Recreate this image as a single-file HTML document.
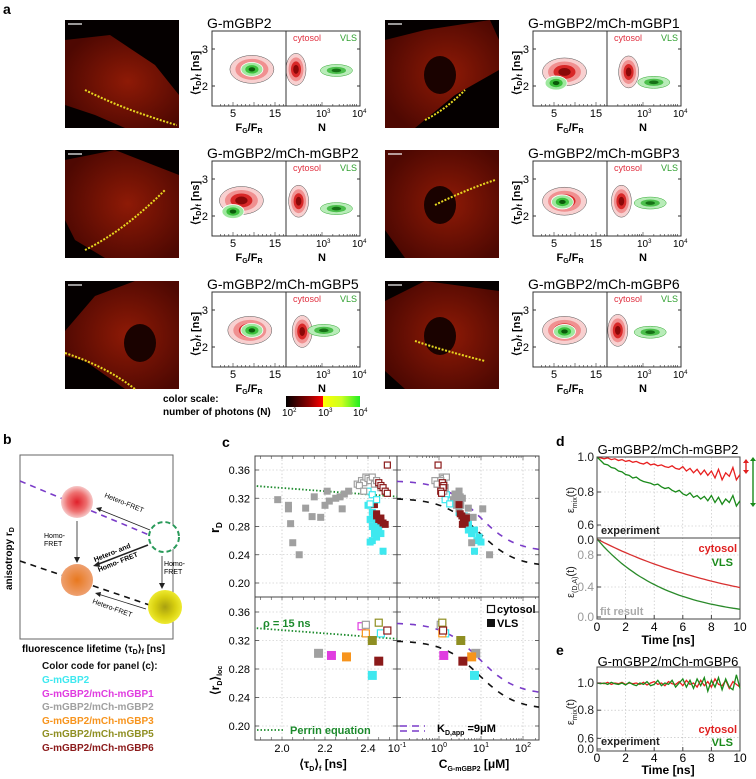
<!DOCTYPE html>
<html><head><meta charset="utf-8">
<style>
html,body{margin:0;padding:0;background:#fff;}
svg{display:block;font-family:"Liberation Sans",Arial,sans-serif;}
.b{font-weight:bold}
</style></head>
<body>
<svg id="fig" xmlns="http://www.w3.org/2000/svg" width="756" height="779" viewBox="0 0 756 779">
<defs>
  <radialGradient id="gRed" cx="50%" cy="50%" r="50%"><stop offset="0" stop-color="#e0202a"/><stop offset="0.6" stop-color="#ee7070"/><stop offset="1" stop-color="#f6c8c8"/></radialGradient>
  <radialGradient id="gOra" cx="50%" cy="50%" r="50%"><stop offset="0" stop-color="#e8781e"/><stop offset="1" stop-color="#eea070"/></radialGradient>
  <radialGradient id="gYel" cx="50%" cy="50%" r="50%"><stop offset="0" stop-color="#a8a010"/><stop offset="0.6" stop-color="#d8d010"/><stop offset="1" stop-color="#eeea30"/></radialGradient>
  <radialGradient id="gCell" cx="55%" cy="50%" r="60%"><stop offset="0" stop-color="#8e1a06"/><stop offset="1" stop-color="#4e0802"/></radialGradient>
  <linearGradient id="gScale" x1="0" x2="1" y1="0" y2="0"><stop offset="0" stop-color="#000"/><stop offset="0.3" stop-color="#800"/><stop offset="0.5" stop-color="#f00"/><stop offset="0.5" stop-color="#ff0"/><stop offset="0.75" stop-color="#cf2"/><stop offset="1" stop-color="#2e2"/></linearGradient>
  <clipPath id="cTL"><rect x="255" y="456" width="142" height="141"/></clipPath>
  <clipPath id="cTR"><rect x="397" y="456" width="142" height="141"/></clipPath>
  <clipPath id="cBL"><rect x="255" y="597" width="142" height="143"/></clipPath>
  <clipPath id="cBR"><rect x="397" y="597" width="142" height="143"/></clipPath>
</defs>

<text x="3" y="14" class="b" font-size="14">a</text>
<g id="panelA"></g>

<g>
  <text x="163" y="402" font-size="10" class="b">color scale:</text>
  <text x="163" y="415" font-size="10" class="b">number of photons (N)</text>
  <rect x="286" y="396" width="74" height="11" fill="url(#gScale)"/>
  <text x="282" y="416" font-size="10">10<tspan font-size="6" dy="-4">2</tspan></text>
  <text x="318" y="416" font-size="10">10<tspan font-size="6" dy="-4">3</tspan></text>
  <text x="353" y="416" font-size="10">10<tspan font-size="6" dy="-4">4</tspan></text>
</g>

<g>
  <text x="3" y="444" class="b" font-size="14">b</text>
  <rect x="20" y="455" width="153" height="184" fill="none" stroke="#666" stroke-width="1"/>
  <line x1="20" y1="481" x2="173" y2="545" stroke="#7a3cc8" stroke-width="1.6" stroke-dasharray="6,5"/>
  <line x1="20" y1="561" x2="173" y2="613" stroke="#111" stroke-width="1.6" stroke-dasharray="6,5"/>
  <circle cx="77" cy="502" r="16" fill="url(#gRed)"/>
  <circle cx="77" cy="580" r="16" fill="url(#gOra)"/>
  <circle cx="164" cy="537" r="15" fill="#fff" stroke="#2a9a5a" stroke-width="2" stroke-dasharray="5,3"/>
  <circle cx="165" cy="607" r="17" fill="url(#gYel)"/>
  <line x1="77" y1="521" x2="77" y2="558" stroke="#222" stroke-width="0.8"/>
  <polygon points="74,557 80,557 77,563" fill="#222"/>
  <line x1="162" y1="556" x2="162" y2="584" stroke="#222" stroke-width="0.8"/>
  <polygon points="159,583 165,583 162,589" fill="#222"/>
  <line x1="150" y1="530" x2="98" y2="509" stroke="#222" stroke-width="0.8"/>
  <polygon points="96,508 102,507 100,512" fill="#222"/>
  <line x1="148" y1="545" x2="96" y2="565" stroke="#222" stroke-width="1.6"/>
  <polygon points="93,566 99,561 100,567" fill="#222"/>
  <line x1="146" y1="609" x2="98" y2="594" stroke="#222" stroke-width="0.8"/>
  <polygon points="95,593 101,592 100,597" fill="#222"/>
  <text font-size="7" transform="translate(104,497) rotate(22)">Hetero-FRET</text>
  <text x="44" y="538" font-size="7">Homo-</text>
  <text x="44" y="546" font-size="7">FRET</text>
  <text font-size="7" class="b" transform="translate(95,562) rotate(-22)">Hetero-  and</text>
  <text font-size="7" class="b" transform="translate(99,572) rotate(-22)">Homo- FRET</text>
  <text x="164" y="566" font-size="7">Homo-</text>
  <text x="164" y="574" font-size="7">FRET</text>
  <text font-size="7" transform="translate(92,603) rotate(20)">Hetero-FRET</text>
  <text font-size="10" class="b" transform="translate(12,590) rotate(-90)">anisotropy r<tspan font-size="7" dy="2">D</tspan></text>
  <text x="22" y="652" font-size="10" class="b">fluorescence lifetime ⟨τ<tspan font-size="7" dy="2">D</tspan><tspan dy="-2">⟩</tspan><tspan font-size="7" dy="2">f</tspan><tspan dy="-2"> [ns]</tspan></text>
  <g font-size="10" class="b">
    <text x="42" y="669" fill="#111">Color code for panel (c):</text>
    <text x="42" y="683" fill="#3ee8ef">G-mGBP2</text>
    <text x="42" y="697" fill="#e03ce0">G-mGBP2/mCh-mGBP1</text>
    <text x="42" y="710" fill="#a0a0a0">G-mGBP2/mCh-mGBP2</text>
    <text x="42" y="724" fill="#f7941d">G-mGBP2/mCh-mGBP3</text>
    <text x="42" y="737" fill="#8f8f22">G-mGBP2/mCh-mGBP5</text>
    <text x="42" y="751" fill="#8b1a1a">G-mGBP2/mCh-mGBP6</text>
  </g>
</g>

<g id="panelC">
  <text x="222" y="447" class="b" font-size="14">c</text>
</g>
<g id="panelD">
  <text x="556" y="446" class="b" font-size="14">d</text>
  <text x="668" y="454" font-size="13" text-anchor="middle">G-mGBP2/mCh-mGBP2</text>
  <text x="556" y="655" class="b" font-size="14">e</text>
  <text x="668" y="666" font-size="13" text-anchor="middle">G-mGBP2/mCh-mGBP6</text>
</g>
</svg>

<script>
var NS='http://www.w3.org/2000/svg';
function mk(tag,attrs,parent){var e=document.createElementNS(NS,tag);for(var k in attrs)e.setAttribute(k,attrs[k]);parent.appendChild(e);return e;}
function txt(s,attrs,parent){var e=mk('text',attrs,parent);e.textContent=s;return e;}

/* ---------- panel a data ---------- */
var cellTitles=['G-mGBP2','G-mGBP2/mCh-mGBP1','G-mGBP2/mCh-mGBP2','G-mGBP2/mCh-mGBP3','G-mGBP2/mCh-mGBP5','G-mGBP2/mCh-mGBP6'];
var cytRatio=[9.5,7.5,7.0,7.5,9.0,7.5];
var cytTau=[2.45,2.38,2.42,2.40,2.45,2.45];
var vlsRatio=[9.5,5.5,5.0,7.0,9.5,7.5];
var vlsTau=[2.45,2.08,2.12,2.38,2.45,2.42];
var cytLogN=[2.15,2.6,2.35,2.4,2.45,2.3];
var vlsLogN=[3.4,3.3,3.4,3.2,3.05,3.2];
var vlsNTau=[2.42,2.1,2.2,2.35,2.45,2.4];
var cytNTau=[2.45,2.38,2.4,2.4,2.42,2.45];

var A=document.getElementById('panelA');
var cols=[{img:65,L:212},{img:385,L:533}];
var rowsY=[0,130,261];
var cellShapes=[
 'M0,20 L45,15 L90,45 L114,75 L114,108 L60,108 L30,95 L0,85 Z',
 'M0,20 L40,10 L105,0 L114,20 L114,50 L70,75 L30,108 L0,108 Z',
 'M0,10 L50,0 L114,25 L114,108 L40,108 L10,90 L0,70 Z',
 'M0,0 L114,0 L114,108 L20,108 L0,80 Z',
 'M0,50 L30,15 L70,0 L114,0 L114,108 L60,108 L20,80 L0,75 Z',
 'M0,20 L40,0 L114,10 L114,108 L20,108 L0,90 Z'];
var yelLines=[
 'M20,70 Q50,85 80,95 T112,105',
 'M40,100 Q60,90 80,70',
 'M20,100 Q60,80 100,40',
 'M50,55 Q80,40 110,30',
 'M0,72 Q40,85 70,108',
 'M30,60 Q60,70 100,80'];
function drawCell(i){
  var c=cols[i%2],oy=rowsY[Math.floor(i/2)],L=c.L;
  function yT(tau){return oy+49+(3-tau)*37;}
  function xF(f){return L+f*4.2;}
  function xN(lg){return L+74+(lg-2)*36;}
  var g=mk('g',{},A);
  
  
  var im=mk('g',{transform:'translate('+c.img+','+(20+oy)+')'},g);
  
  
  var bg=mk('rect',{x:0,y:0,width:114,height:108,fill:'#050000'},im);
  
  
  var sh=mk('path',{d:cellShapes[i],fill:'url(#gCell)'},im);
  
  
  if(i==4||i==1||i==3||i==5){var nu=mk('ellipse',{cx:i==4?75:55,cy:i==4?62:55,rx:16,ry:19,fill:'#1a0200'},im);
  
  }
  var yl=mk('path',{d:yelLines[i],fill:'none',stroke:'#e8d820','stroke-width':2,'stroke-dasharray':'2,1.5'},im);
  
  
  var sb=mk('line',{x1:3,y1:4,x2:17,y2:4,stroke:'#fff','stroke-width':1.2},im);
  
  
  var t=txt(cellTitles[i],{x:L-5,y:28+oy,'font-size':14},g);
  
  
  var lvls=[[1,'#f8d0d0'],[0.75,'#f09090'],[0.5,'#d82828'],[0.28,'#8a0808']];
  lvls.forEach(function(lv){
    var e=mk('ellipse',{cx:xF(cytRatio[i]),cy:yT(cytTau[i]),rx:22*lv[0],ry:14*lv[0],fill:lv[1],stroke:lv[0]==1?'#555':'none','stroke-width':0.5},g);
    
    
  });
  [[1,'#9ee89e'],[0.6,'#3cc03c'],[0.3,'#0a5a0a']].forEach(function(lv){
    var e=mk('ellipse',{cx:xF(vlsRatio[i]),cy:yT(vlsTau[i]),rx:11*lv[0],ry:7*lv[0],fill:lv[1],stroke:lv[0]==1?'#fff':'none','stroke-width':0.8},g);
    
    
  });
  lvls.forEach(function(lv){
    var e=mk('ellipse',{cx:Math.max(xN(cytLogN[i]),L+84),cy:yT(cytNTau[i]),rx:10*lv[0],ry:16*lv[0],fill:lv[1],stroke:lv[0]==1?'#555':'none','stroke-width':0.5},g);
    
    
  });
  [[1,'#b8ecb8'],[0.6,'#4cc04c'],[0.3,'#167016']].forEach(function(lv){
    var e=mk('ellipse',{cx:xN(vlsLogN[i]),cy:yT(vlsNTau[i]),rx:16*lv[0],ry:6*lv[0],fill:lv[1],stroke:lv[0]==1?'#3a3':'none','stroke-width':0.5},g);
    
    
  });
  var box=mk('rect',{x:L,y:31+oy,width:148,height:75,fill:'none',stroke:'#333','stroke-width':1},g);
  
  
  var dv=mk('line',{x1:L+74,y1:31+oy,x2:L+74,y2:106+oy,stroke:'#333','stroke-width':1},g);
  
  
  var lc=txt('cytosol',{x:L+81,y:41+oy,'font-size':9,fill:'#e03040'},g);
  
  
  var lv2=txt('VLS',{x:L+128,y:41+oy,'font-size':9,fill:'#30a030'},g);
  
  
  [3,2].forEach(function(v){
    var tl=txt(String(v),{x:L-4,y:yT(v)+4,'font-size':11,'text-anchor':'end'},g);
    
    
    var tk=mk('line',{x1:L,x2:L+3,y1:yT(v),y2:yT(v),stroke:'#333'},g);
    
    
    var tk2=mk('line',{x1:L+148,x2:L+145,y1:yT(v),y2:yT(v),stroke:'#333'},g);
    
    
  });
  var yl2=txt('',{transform:'translate('+(L-13)+','+(95+oy)+') rotate(-90)','font-size':11,'class':'b'},g);
  yl2.innerHTML='⟨τ<tspan font-size="7" dy="2">D</tspan><tspan dy="-2">⟩</tspan><tspan font-size="7" dy="2">f</tspan><tspan dy="-2"> [ns]</tspan>';
  
  
  [5,15].forEach(function(v){
    var tl=txt(String(v),{x:xF(v),y:117+oy,'font-size':11,'text-anchor':'middle'},g);
    
    
  });
  for(var f=2;f<=17;f++){var tk=mk('line',{x1:xF(f),x2:xF(f),y1:106+oy,y2:(f%5==0)?102+oy:104+oy,stroke:'#333','stroke-width':0.6},g);
    
    }
  for(var d=2;d<4;d++)for(var m=1;m<10;m++){var xx=xN(d+Math.log10(m));var tk3=mk('line',{x1:xx,x2:xx,y1:106+oy,y2:m==1?102+oy:104+oy,stroke:'#333','stroke-width':0.6},g);
    
    }
  [3,4].forEach(function(v){
    var tl=txt('',{x:xN(v)-6,y:117+oy,'font-size':10},g);
    tl.innerHTML='10<tspan font-size="6" dy="-4">'+v+'</tspan>';
    
    
  });
  var xt=txt('',{x:L+37,y:131+oy,'font-size':11,'class':'b','text-anchor':'middle'},g);
  xt.innerHTML='F<tspan font-size="7" dy="2">G</tspan><tspan dy="-2">/F</tspan><tspan font-size="7" dy="2">R</tspan>';
  
  
  var xn=txt('N',{x:L+110,y:131+oy,'font-size':11,'class':'b','text-anchor':'middle'},g);
  
  
}
for(var ci=0;ci<6;ci++)drawCell(ci);

/* ---------- panel c data ---------- */
var grpColors=['#3ee8ef','#e03ce0','#a0a0a0','#f7941d','#8f8f22','#8b1a1a'];
var vlsGroup=[0,0,0,0,0,0,0,0,0,0,0,0,0,0,0, 2,2,2,2,2,2,2,2,2,2,2,2,2,2,2,2,2,2, 5,5,5,5,5,5,5,5];
var vlsTauArr=[2.40,2.41,2.42,2.43,2.44,2.45,2.42,2.46,2.43,2.41,2.44,2.45,2.47,2.42,2.43, 1.98,2.03,2.03,2.04,2.05,2.08,2.11,2.14,2.15,2.18,2.21,2.20,2.22,2.25,2.27,2.28,2.29,2.31, 2.43,2.44,2.45,2.46,2.47,2.48,2.44,2.46];
var vlsRArr=[0.310,0.290,0.280,0.270,0.285,0.275,0.260,0.270,0.295,0.258,0.265,0.282,0.245,0.300,0.275, 0.318,0.310,0.305,0.284,0.257,0.240,0.306,0.294,0.322,0.293,0.330,0.310,0.316,0.320,0.322,0.305,0.326,0.330, 0.311,0.295,0.290,0.288,0.285,0.283,0.298,0.292];
var vlsCArr=[3.0,4.0,5.0,6.0,5.0,7.0,8.0,6.0,4.0,10,9.0,5.0,7.0,3.0,5.0, 2.2,2.6,3.0,4.0,6.0,16,5.0,4.5,2.5,6.5,3.0,3.3,2.8,3.6,3.2,11,2.4,3.0, 3.0,3.5,4.0,3.8,4.2,3.6,3.2,4.5];
var cytGroup=[0,0,0,0, 2,2,2,2,2,2,2,2,2,2,2,2,2, 5,5,5,5,5,5];
var cytTauArr=[2.40,2.42,2.44,2.41, 2.35,2.37,2.38,2.39,2.40,2.41,2.42,2.43,2.44,2.36,2.45,2.46,2.38, 2.49,2.45,2.46,2.47,2.48,2.49];
var cytRArr=[0.330,0.325,0.318,0.312, 0.340,0.345,0.342,0.350,0.348,0.345,0.350,0.340,0.345,0.338,0.340,0.335,0.330, 0.367,0.342,0.338,0.335,0.330,0.327];
var cytCArr=[1.2,1.5,1.4,1.8, 0.9,1.0,1.1,1.2,1.3,0.8,1.5,1.0,1.1,1.2,0.9,1.4,1.3, 0.95,1.2,1.3,1.25,1.1,1.15];
var locVlsTau=[2.42,2.23,2.17,2.30,2.42,2.45];
var locVlsR=[0.271,0.299,0.302,0.297,0.320,0.291];
var locVlsC=[7.0,1.3,7.5,6.0,3.3,3.7];
var locCytTau=[2.46,2.37,2.39,2.39,2.45,2.49];
var locCytR=[0.330,0.340,0.342,0.330,0.345,0.334];
var locCytC=[1.4,1.2,1.1,1.2,1.2,1.25];
var perrinTau=[1.85,2.55];
var perrinR=[0.338,0.322];
var bindR0=[0.345,0.320];
var bindRinf=[0.244,0.223];
var bindKd=[9,9];
var yTickC=[0.20,0.24,0.28,0.32,0.36];
var xTickTau=[2.0,2.2,2.4];

var C=document.getElementById('panelC');
function xTau(t){return 282+(t-2.0)*215;}
function xC(c){return 397+(Math.log10(c)+1)*42;}
function yTop(r){return 470+(0.36-r)*706.25;}
function yBot(r){return 612+(0.36-r)*712.5;}

function grid(x1,x2,yf){
  yTickC.forEach(function(v){var l=mk('line',{x1:x1,x2:x2,y1:yf(v),y2:yf(v),stroke:'#bbb','stroke-width':0.6,'stroke-dasharray':'1.5,2'},C);
    
    });
}
grid(255,539,yTop);grid(255,539,yBot);
[xTau(2.0),xTau(2.2),xTau(2.4),xC(1),xC(10),xC(100)].forEach(function(x){
  var l=mk('line',{x1:x,x2:x,y1:456,y2:740,stroke:'#bbb','stroke-width':0.6,'stroke-dasharray':'1.5,2'},C);
  
  
});
[[255,456,142,141],[397,456,142,141],[255,597,142,143],[397,597,142,143]].forEach(function(b){
  var r=mk('rect',{x:b[0],y:b[1],width:b[2],height:b[3],fill:'none',stroke:'#444','stroke-width':1},C);
  
  
});
yTickC.forEach(function(v){
  var a=txt(v.toFixed(2),{x:250,y:yTop(v)+4,'font-size':11,'text-anchor':'end'},C);
  
  
  var b=txt(v.toFixed(2),{x:250,y:yBot(v)+4,'font-size':11,'text-anchor':'end'},C);
  
  
  [yTop(v),yBot(v)].forEach(function(y){[255,535,393,397].forEach(function(x){
    var t=mk('line',{x1:x,x2:x+4,y1:y,y2:y,stroke:'#444','stroke-width':0.8},C);
    
    });});
});
xTickTau.forEach(function(v){
  var a=txt(v.toFixed(1),{x:xTau(v),y:752,'font-size':11,'text-anchor':'middle'},C);
  
  
});
for(var tt=1.9;tt<2.54;tt+=0.05){[740,456,597].forEach(function(y){
  var t=mk('line',{x1:xTau(tt),x2:xTau(tt),y1:y,y2:y+(y==740?-3:3),stroke:'#444','stroke-width':0.6},C);
  
  });}
[-1,0,1,2].forEach(function(p){
  var a=txt('',{x:xC(Math.pow(10,p)),y:752,'font-size':11,'text-anchor':'middle'},C);
  a.innerHTML='10<tspan font-size="7" dy="-5">'+p+'</tspan>';
  
  
});
for(var p=-1;p<3;p++)for(var m=1;m<10;m++){var x=xC(m*Math.pow(10,p));if(x>539)break;[740,456,597].forEach(function(y){
  var t=mk('line',{x1:x,x2:x,y1:y,y2:y+(y==740?-1:1)*(m==1?4:2),stroke:'#444','stroke-width':0.6},C);
  
  });}
var yt1=txt('',{transform:'translate(219,533) rotate(-90)','font-size':13,'class':'b'},C);
yt1.innerHTML='r<tspan font-size="8" dy="3">D</tspan>';


var yt2=txt('',{transform:'translate(219,695) rotate(-90)','font-size':12,'class':'b'},C);
yt2.innerHTML='⟨r<tspan font-size="7" dy="3">D</tspan><tspan dy="-3">⟩</tspan><tspan font-size="7" dy="3">loc</tspan>';


var xt1=txt('',{x:323,y:768,'font-size':12,'class':'b','text-anchor':'middle'},C);
xt1.innerHTML='⟨τ<tspan font-size="7" dy="3">D</tspan><tspan dy="-3">⟩</tspan><tspan font-size="7" dy="3">f</tspan><tspan dy="-3"> [ns]</tspan>';


var xt2=txt('',{x:474,y:768,'font-size':12,'class':'b','text-anchor':'middle'},C);
xt2.innerHTML='C<tspan font-size="7" dy="3">G-mGBP2</tspan><tspan dy="-3"> [μM]</tspan>';



var gTL=mk('g',{'clip-path':'url(#cTL)'},C),gTR=mk('g',{'clip-path':'url(#cTR)'},C),gBL=mk('g',{'clip-path':'url(#cBL)'},C),gBR=mk('g',{'clip-path':'url(#cBR)'},C);
[[gTL,yTop],[gBL,yBot]].forEach(function(q){
  var l=mk('line',{x1:xTau(perrinTau[0]),y1:q[1](perrinR[0]),x2:xTau(perrinTau[1]),y2:q[1](perrinR[1]),stroke:'#1c8a2c','stroke-width':1.8,'stroke-dasharray':'1.5,2'},q[0]);
  
  
});
[[gTR,yTop],[gBR,yBot]].forEach(function(q){
  for(var k=0;k<2;k++){
    var d='';
    for(var lg=-1;lg<=2.4;lg+=0.05){var c=Math.pow(10,lg);var r=bindR0[k]-(bindR0[k]-bindRinf[k])*c/(c+bindKd[k]);d+=(d?'L':'M')+xC(c).toFixed(1)+','+q[1](r).toFixed(1);}
    var pth=mk('path',{d:d,fill:'none',stroke:k==0?'#7a3cc8':'#111','stroke-width':1.6,'stroke-dasharray':'6,7'},q[0]);
    
    
  }
});
function sq(g,x,y,col,filled,s,name){
  var r=mk('rect',{x:x-s/2,y:y-s/2,width:s,height:s,fill:filled?col:'#fff',stroke:col,'stroke-width':filled?0:1.2},g);
  
  
}
for(var i=0;i<vlsGroup.length;i++){var col=grpColors[vlsGroup[i]];
  sq(gTL,xTau(vlsTauArr[i]),yTop(vlsRArr[i]),col,true,7,'vls-point');
  sq(gTR,xC(vlsCArr[i]),yTop(vlsRArr[i]),col,true,7,'vls-point');}
for(var i=0;i<cytGroup.length;i++){var col=grpColors[cytGroup[i]];
  sq(gTL,xTau(cytTauArr[i]),yTop(cytRArr[i]),col,false,6,'cytosol-point');
  sq(gTR,xC(cytCArr[i]),yTop(cytRArr[i]),col,false,6,'cytosol-point');}
for(var i=0;i<6;i++){var col=grpColors[i];
  sq(gBL,xTau(locVlsTau[i]),yBot(locVlsR[i]),col,true,9,'loc-vls-point');
  sq(gBR,xC(locVlsC[i]),yBot(locVlsR[i]),col,true,9,'loc-vls-point');
  sq(gBL,xTau(locCytTau[i]),yBot(locCytR[i]),col,false,7,'loc-cytosol-point');
  sq(gBR,xC(locCytC[i]),yBot(locCytR[i]),col,false,7,'loc-cytosol-point');}
var rho=txt('ρ = 15 ns',{x:263,y:627,'font-size':11,'class':'b',fill:'#1c8a2c'},C);


var pl=mk('line',{x1:257,x2:285,y1:730,y2:730,stroke:'#1c8a2c','stroke-width':1.8,'stroke-dasharray':'1.5,2'},C);


var pt=txt('Perrin equation',{x:290,y:734,'font-size':11,'class':'b',fill:'#1c8a2c'},C);


[726,731].forEach(function(y){var l=mk('line',{x1:400,x2:425,y1:y,y2:y,stroke:'#7a3cc8','stroke-width':1.6,'stroke-dasharray':'7,5'},C);
  
  });
var kd=txt('',{x:437,y:732,'font-size':11,'class':'b'},C);
kd.innerHTML='K<tspan font-size="7" dy="3">D,app</tspan><tspan dy="-3"> =9μM</tspan>';


sq(C,491,609,'#111',false,7,'legend-cytosol-marker');
sq(C,491,623,'#111',true,8,'legend-vls-marker');
var lc1=txt('cytosol',{x:497,y:613,'font-size':11,'class':'b'},C);


var lc2=txt('VLS',{x:497,y:627,'font-size':11,'class':'b'},C);



/* ---------- panel d/e data ---------- */
var timeNs=[0,0.25,0.5,0.75,1,1.25,1.5,1.75,2,2.25,2.5,2.75,3,3.25,3.5,3.75,4,4.25,4.5,4.75,5,5.25,5.5,5.75,6,6.25,6.5,6.75,7,7.25,7.5,7.75,8,8.25,8.5,8.75,9,9.25,9.5,9.75,10];
var dCytosol=[1.0,0.995,0.99,0.995,0.985,0.99,0.98,0.985,0.975,0.98,0.97,0.975,0.965,0.96,0.97,0.955,0.96,0.95,0.955,0.945,0.94,0.95,0.935,0.93,0.945,0.92,0.935,0.91,0.93,0.90,0.925,0.895,0.92,0.88,0.93,0.87,0.91,0.89,0.94,0.87,0.90];
var dVls=[1.0,0.98,0.96,0.955,0.94,0.935,0.92,0.915,0.90,0.895,0.88,0.885,0.87,0.86,0.855,0.85,0.84,0.845,0.83,0.82,0.825,0.81,0.80,0.81,0.79,0.78,0.795,0.77,0.78,0.76,0.775,0.75,0.78,0.74,0.77,0.73,0.76,0.74,0.78,0.72,0.75];
var eCytosol=[1.0,1.0,0.995,1.005,0.99,1.0,0.995,1.005,0.99,1.0,0.995,1.0,0.99,1.005,0.985,1.0,1.01,0.99,1.0,0.98,1.01,0.995,0.99,1.01,0.98,1.02,0.99,1.0,0.97,1.02,0.98,1.01,0.97,1.03,0.99,0.98,1.02,0.96,1.01,0.99,0.97];
var eVls=[1.0,0.995,1.0,0.99,1.005,0.995,0.99,1.0,0.985,1.005,0.99,0.98,1.0,0.99,1.01,0.98,0.99,1.02,0.98,1.0,0.99,1.02,0.97,1.0,1.03,0.97,1.02,0.96,1.03,0.98,1.04,0.94,1.02,0.97,1.04,0.95,1.03,0.97,0.95,1.06,0.96];
var fitTau=[10.7,4.75];

var D=document.getElementById('panelD');
function xT(t){return 597+t*14.3;}
function yD(v){return 457+(1-v)*175;}
function yF(v){return 619-v*80;}
function yE(v){return 683+(1-v)*136;}
[0.8,0.6].forEach(function(v){var l=mk('line',{x1:597,x2:740,y1:yD(v)+(v==0.6?-1:0),y2:yD(v)+(v==0.6?-1:0),stroke:'#bbb','stroke-width':0.6,'stroke-dasharray':'1.5,2'},D);
  
  });
[0.4,0.8].forEach(function(v){var l=mk('line',{x1:597,x2:740,y1:yF(v),y2:yF(v),stroke:'#bbb','stroke-width':0.6,'stroke-dasharray':'1.5,2'},D);
  
  });
[0.8,0.6].forEach(function(v){var l=mk('line',{x1:597,x2:740,y1:yE(v),y2:yE(v),stroke:'#bbb','stroke-width':0.6,'stroke-dasharray':'1.5,2'},D);
  
  });
[2,4,6,8].forEach(function(t){[[457,619],[667,751]].forEach(function(r){
  var l=mk('line',{x1:xT(t),x2:xT(t),y1:r[0],y2:r[1],stroke:'#bbb','stroke-width':0.6,'stroke-dasharray':'1.5,2'},D);
  
  });});
[[597,457,143,162],[597,667,143,84]].forEach(function(b){var r=mk('rect',{x:b[0],y:b[1],width:b[2],height:b[3],fill:'none',stroke:'#444'},D);
  
  });
var sep=mk('line',{x1:597,x2:740,y1:538,y2:538,stroke:'#444'},D);


function line(arrT,arrV,yf,col,name){var d='';for(var i=0;i<arrT.length;i++)d+=(i?'L':'M')+xT(arrT[i]).toFixed(1)+','+yf(arrV[i]).toFixed(1);
  var pth=mk('path',{d:d,fill:'none',stroke:col,'stroke-width':1.3},D);
  
  }
line(timeNs,dCytosol,yD,'#e82020','d-cytosol-trace');
line(timeNs,dVls,yD,'#1a8a1a','d-vls-trace');
var fitV0=[],fitV1=[];
for(var i=0;i<timeNs.length;i++){fitV0.push(Math.exp(-timeNs[i]/fitTau[0]));fitV1.push(Math.exp(-timeNs[i]/fitTau[1]));}
line(timeNs,fitV0,yF,'#d83030','fit-cytosol-curve');
line(timeNs,fitV1,yF,'#2a8a2a','fit-vls-curve');
line(timeNs,eCytosol,yE,'#e82020','e-cytosol-trace');
line(timeNs,eVls,yE,'#1a8a1a','e-vls-trace');
function ylab(s,y,col,name){var t=txt(s,{x:594,y:y+4,'font-size':12,'text-anchor':'end',fill:col},D);
  
  
  var k=mk('line',{x1:597,x2:601,y1:y,y2:y,stroke:'#444'},D);
  
  }
ylab('1.0',yD(1),'#222','y-tick-label');ylab('0.8',yD(0.8),'#222','y-tick-label');ylab('0.6',yD(0.6)-2,'#222','y-tick-label');ylab('0.0',540,'#222','y-tick-label');
ylab('0.8',yF(0.8),'#999','y-tick-label-fit');ylab('0.4',yF(0.4),'#999','y-tick-label-fit');ylab('0.0',yF(0)-2,'#999','y-tick-label-fit');
ylab('1.0',yE(1),'#222','y-tick-label');ylab('0.8',yE(0.8),'#222','y-tick-label');ylab('0.6',yE(0.6)+1,'#222','y-tick-label');ylab('0.0',749,'#222','y-tick-label');
[0,2,4,6,8,10].forEach(function(t){[[631,619],[762,751]].forEach(function(q){
  var a=txt(String(t),{x:xT(t),y:q[0],'font-size':12,'text-anchor':'middle'},D);
  
  
  var k=mk('line',{x1:xT(t),x2:xT(t),y1:q[1],y2:q[1]-4,stroke:'#444'},D);
  
  });});
[644,774].forEach(function(y){var a=txt('Time [ns]',{x:668,y:y,'font-size':12,'class':'b','text-anchor':'middle'},D);
  
  });
[[574,500,'mix','y-axis-title-mix'],[574,582,'(D,A)','y-axis-title-fit'],[574,712,'mix','y-axis-title-e']].forEach(function(q){
  var a=txt('',{transform:'translate('+q[0]+','+q[1]+') rotate(-90)','font-size':11,'text-anchor':'middle',fill:'#222'},D);
  a.innerHTML='ε<tspan font-size="7" dy="3">'+q[2]+'</tspan><tspan dy="-3">(t)</tspan>';
  
  });
function lab(s,x,y,col,name,anchor){var a=txt(s,{x:x,y:y,'font-size':11,'class':'b',fill:col,'text-anchor':anchor||'start'},D);
  
  }
lab('experiment',601,534,'#222','experiment-label-d');
lab('cytosol',737,552,'#e02020','fit-cytosol-label','end');
lab('VLS',733,566,'#1a8a1a','fit-vls-label','end');
lab('fit result',600,615,'#aaa','fit-result-label');
lab('experiment',601,745,'#222','experiment-label-e');
lab('cytosol',737,733,'#e02020','e-cytosol-label','end');
lab('VLS',733,746,'#1a8a1a','e-vls-label','end');
[[746,459,474,'#e02020'],[753,457,507,'#1a8a1a']].forEach(function(q){
  var l=mk('line',{x1:q[0],x2:q[0],y1:q[1]+3,y2:q[2]-3,stroke:q[3],'stroke-width':1.4},D);
  
  
  var h1=mk('polygon',{points:(q[0]-3)+','+(q[1]+4)+' '+(q[0]+3)+','+(q[1]+4)+' '+q[0]+','+q[1],fill:q[3]},D);
  
  
  var h2=mk('polygon',{points:(q[0]-3)+','+(q[2]-4)+' '+(q[0]+3)+','+(q[2]-4)+' '+q[0]+','+q[2],fill:q[3]},D);
  
  
});
</script>
</body></html>
